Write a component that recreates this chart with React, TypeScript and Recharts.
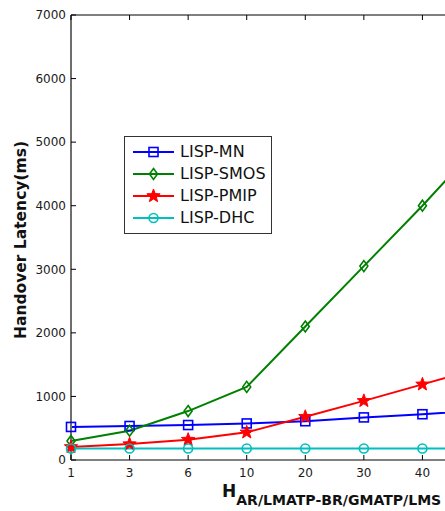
import { LineChart, Line, XAxis, YAxis, Legend } from 'recharts';

// values (ms)
const hops = ['1', '3', '6', '10', '20', '30', '40', '50'];
const lispMN = [520, 535, 550, 575, 610, 670, 720, 780];
const lispSMOS = [300, 460, 770, 1150, 2100, 3050, 4000, 5000];
const lispPMIP = [205, 250, 320, 435, 680, 930, 1190, 1450];
const lispDHC = [180, 180, 180, 180, 180, 180, 180, 180];
const yTicks = [0, 1000, 2000, 3000, 4000, 5000, 6000, 7000];

const data = hops.map((h, i) => ({
    h,
    mn: lispMN[i],
    smos: lispSMOS[i],
    pmip: lispPMIP[i],
    dhc: lispDHC[i],
}));

const FONT = '"DejaVu Sans", Verdana, sans-serif';
const VIEW_W = 445;

const series = [
    { key: 'mn', name: 'LISP-MN', color: '#0000ff', shape: 'square' },
    { key: 'smos', name: 'LISP-SMOS', color: '#008000', shape: 'diamond' },
    { key: 'pmip', name: 'LISP-PMIP', color: '#ff0000', shape: 'star' },
    { key: 'dhc', name: 'LISP-DHC', color: '#00bfbf', shape: 'circle' },
];

function starPath(cx: number, cy: number, R: number) {
    const r = R * 0.42;
    let d = '';
    for (let i = 0; i < 10; i++) {
        const rad = i % 2 === 0 ? R : r;
        const a = -Math.PI / 2 + (i * Math.PI) / 5;
        d += (i === 0 ? 'M' : 'L') + (cx + rad * Math.cos(a)).toFixed(2) + ',' + (cy + rad * Math.sin(a)).toFixed(2);
    }
    return d + 'Z';
}

function Marker({ shape, cx, cy, color }: any) {
    if (shape === 'square')
        return <rect x={cx - 4.5} y={cy - 4.5} width={9} height={9} fill="none" stroke={color} strokeWidth={1.6} />;
    if (shape === 'diamond')
        return <path d={`M${cx},${cy - 5.5}L${cx + 4},${cy}L${cx},${cy + 5.5}L${cx - 4},${cy}Z`} fill="none" stroke={color} strokeWidth={1.6} />;
    if (shape === 'star')
        return <path d={starPath(cx, cy, 7)} fill={color} stroke={color} strokeWidth={1} />;
    return <circle cx={cx} cy={cy} r={4.5} fill="none" stroke={color} strokeWidth={1.6} />;
}

const makeDot = (shape: string, color: string) => (props: any) => (
    <g key={props.index}>
        <Marker shape={shape} cx={props.cx} cy={props.cy} color={color} />
    </g>
);

// the figure is cropped on the right, so labels past the edge are not drawn
const BottomTick = ({ x, y, payload }: any) => (
    <g>
        <line x1={x} y1={y} x2={x} y2={y - 5} stroke="#000" />
        {x < VIEW_W - 8 && (
            <text x={x} y={y + 17} textAnchor="middle" fontSize={12} fontFamily={FONT} fill="#1a1a1a">
                {payload.value}
            </text>
        )}
    </g>
);

const TopTick = ({ x, y }: any) => <line x1={x} y1={y} x2={x} y2={y + 5} stroke="#000" />;

const LeftTick = ({ x, y, payload }: any) => (
    <g>
        <line x1={x} y1={y} x2={x + 5} y2={y} stroke="#000" />
        <text x={x - 5} y={y} dy="0.36em" textAnchor="end" fontSize={12} fontFamily={FONT} fill="#1a1a1a">
            {payload.value}
        </text>
    </g>
);

const LegendBox = () => (
    <div
        style={{
            width: 146,
            height: 92,
            border: '1px solid #333',
            background: '#fff',
            paddingTop: 4,
            boxSizing: 'content-box',
        }}
    >
        {series.map(s => (
            <div key={s.key} style={{ height: 22, display: 'flex', alignItems: 'center' }}>
                <svg width={55} height={22} style={{ display: 'block' }}>
                    <line x1={8} y1={11} x2={49} y2={11} stroke={s.color} strokeWidth={2} />
                    <Marker shape={s.shape} cx={28.5} cy={11} color={s.color} />
                </svg>
                <span style={{ fontFamily: FONT, fontSize: 16, color: '#111', lineHeight: '22px' }}>{s.name}</span>
            </div>
        ))}
    </div>
);

export default function App() {
    return (
        <div style={{ position: 'absolute', left: 0, top: 0, width: VIEW_W, height: 511, overflow: 'hidden', background: '#fff' }}>
            <LineChart width={500} height={511} data={data} margin={{ top: 0, right: 19, bottom: 0, left: 0 }}>
                <XAxis
                    dataKey="h"
                    scale="point"
                    padding={{ left: 0, right: 0 }}
                    height={51}
                    tickSize={0}
                    tickMargin={0}
                    tick={<BottomTick />}
                    interval={0}
                    axisLine={{ stroke: '#000', strokeWidth: 1 }}
                    label={{
                        content: () => (
                            <text x={222} y={497} fontFamily={FONT} fontWeight="bold" fill="#111">
                                <tspan fontSize={17}>H</tspan>
                                <tspan fontSize={13.5} dy={8} textLength={205} lengthAdjust="spacingAndGlyphs">
                                    AR/LMATP-BR/GMATP/LMS
                                </tspan>
                            </text>
                        ),
                    }}
                />
                <XAxis
                    xAxisId="top"
                    orientation="top"
                    dataKey="h"
                    scale="point"
                    padding={{ left: 0, right: 0 }}
                    height={15}
                    tickSize={0}
                    tickMargin={0}
                    tick={<TopTick />}
                    interval={0}
                    axisLine={{ stroke: '#000', strokeWidth: 1 }}
                />
                <YAxis
                    domain={[0, 7000]}
                    ticks={yTicks}
                    width={71}
                    tickSize={0}
                    tickMargin={0}
                    tick={<LeftTick />}
                    interval={0}
                    axisLine={{ stroke: '#6e6e6e', strokeWidth: 2 }}
                    label={{
                        content: () => (
                            <text
                                x={21}
                                y={240}
                                transform="rotate(-90, 21, 240)"
                                textAnchor="middle"
                                dominantBaseline="central"
                                fontFamily={FONT}
                                fontWeight="bold"
                                fontSize={15.5}
                                fill="#111"
                            >
                                Handover Latency(ms)
                            </text>
                        ),
                    }}
                />
                <Legend
                    layout="vertical"
                    align="center"
                    verticalAlign="middle"
                    content={<LegendBox />}
                    wrapperStyle={{ position: 'absolute', left: 124, top: 136, width: 148 }}
                />
                {series.map(s => (
                    <Line
                        key={s.key}
                        dataKey={s.key}
                        name={s.name}
                        type="linear"
                        stroke={s.color}
                        strokeWidth={2}
                        dot={makeDot(s.shape, s.color)}
                        activeDot={false}
                        isAnimationActive={false}
                    />
                ))}
            </LineChart>
        </div>
    );
}
